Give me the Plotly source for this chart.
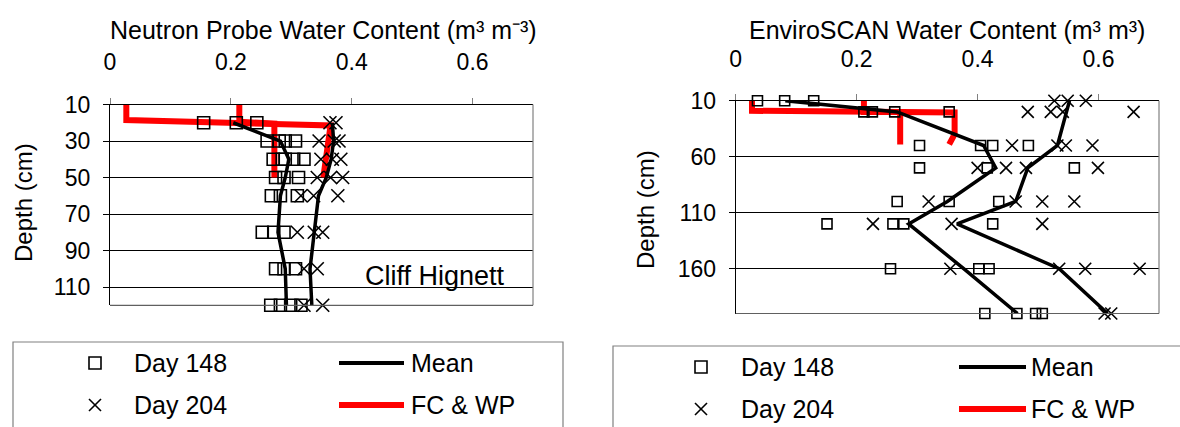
import plotly.graph_objects as go

W, H = 1180, 427
FONT = "Liberation Sans, Arial, sans-serif"

# ---------------- Neutron probe profile (left panel) ----------------
np_depth_148 = [20, 20, 20, 30, 30, 30, 30, 40, 40, 40, 40, 40, 50, 50, 50,
                60, 60, 60, 80, 80, 80, 100, 100, 100, 120, 120, 120, 120]
np_theta_148 = [0.155, 0.209, 0.243, 0.26, 0.28, 0.29, 0.307, 0.27, 0.285, 0.29, 0.304, 0.321,
                0.274, 0.288, 0.312, 0.267, 0.282, 0.31, 0.252, 0.271, 0.288,
                0.274, 0.288, 0.307, 0.266, 0.282, 0.299, 0.316]
np_depth_204 = [20, 20, 30, 30, 30, 40, 40, 40, 50, 50, 50, 60, 60, 60,
                80, 80, 80, 100, 100, 120, 120]
np_theta_204 = [0.364, 0.374, 0.346, 0.371, 0.379, 0.349, 0.368, 0.382, 0.343, 0.365, 0.385,
                0.316, 0.337, 0.377, 0.31, 0.338, 0.352, 0.321, 0.343, 0.321, 0.352]
np_mean_depth = [20, 30, 40, 50, 60, 80, 100, 120]
np_mean_148 = [0.204, 0.282, 0.296, 0.29, 0.282, 0.278, 0.29, 0.292]
np_mean_204 = [0.368, 0.37, 0.366, 0.358, 0.345, 0.338, 0.331, 0.334]
np_fc_depth = [10, 18.5, 21.5, 30, 40, 50]
np_fc = [0.027, 0.027, 0.365, 0.362, 0.358, 0.353]
np_wp_depth = [10, 19.5, 20.5, 50]
np_wp = [0.214, 0.214, 0.272, 0.272]
np_depth_ticks = [10, 30, 50, 70, 90, 110]

# ---------------- EnviroSCAN profile (right panel) ----------------
es_depth_148 = [10, 10, 10, 20, 20, 20, 20, 50, 50, 50, 50, 70, 70, 70, 100, 100, 100,
                120, 120, 120, 120, 160, 160, 160, 200, 200, 200, 200]
es_theta_148 = [0.036, 0.081, 0.129, 0.212, 0.226, 0.263, 0.353, 0.304, 0.405, 0.425, 0.484,
                0.304, 0.416, 0.56, 0.267, 0.353, 0.435, 0.151, 0.26, 0.278, 0.425,
                0.256, 0.402, 0.419, 0.412, 0.465, 0.496, 0.507]
es_depth_204 = [10, 10, 10, 20, 20, 20, 20, 50, 50, 50, 50, 70, 70, 70, 70,
                100, 100, 100, 100, 120, 120, 120, 160, 160, 160, 160, 200, 200]
es_theta_204 = [0.527, 0.549, 0.579, 0.483, 0.521, 0.541, 0.658, 0.457, 0.532, 0.546, 0.59,
                0.40, 0.447, 0.48, 0.599, 0.319, 0.463, 0.507, 0.56, 0.227, 0.357, 0.507,
                0.355, 0.535, 0.578, 0.668, 0.61, 0.621]
es_mean_depth = [10, 20, 50, 70, 100, 120, 160, 200]
es_mean_148 = [0.082, 0.267, 0.41, 0.43, 0.35, 0.286, 0.377, 0.466]
es_mean_204 = [0.552, 0.547, 0.532, 0.483, 0.463, 0.366, 0.535, 0.615]
es_fc_depth = [10, 19, 20.5, 40, 49]
es_fc = [0.027, 0.027, 0.362, 0.362, 0.353]
es_wp_depth = [10, 20, 20, 49]
es_wp = [0.212, 0.212, 0.272, 0.272]
es_depth_ticks = [10, 60, 110, 160]


def px(x):
    return x / W


def py(y):
    return 1 - y / H


fig = go.Figure()


def add_panel(xa, ya, d148, t148, d204, t204, mdep, m148, m204,
              fcd, fc, wpd, wp, sq_size, x_size):
    ax = dict(xaxis=xa, yaxis=ya)
    red = dict(color="#FF0000", width=6)
    fig.add_trace(go.Scatter(x=fc, y=fcd, mode="lines", line=red, **ax))
    fig.add_trace(go.Scatter(x=wp, y=wpd, mode="lines", line=red, **ax))
    fig.add_trace(go.Scatter(x=t148, y=d148, mode="markers", cliponaxis=False,
                             marker=dict(symbol="square-open", size=sq_size, color="black",
                                         line=dict(width=1.6, color="black")), **ax))
    fig.add_trace(go.Scatter(x=t204, y=d204, mode="markers", cliponaxis=False,
                             marker=dict(symbol="x-thin-open", size=x_size, color="black",
                                         line=dict(width=1.6, color="black")), **ax))
    blk = dict(color="black", width=3.5)
    fig.add_trace(go.Scatter(x=m148, y=mdep, mode="lines", line=blk, **ax))
    fig.add_trace(go.Scatter(x=m204, y=mdep, mode="lines", line=blk, **ax))


add_panel("x", "y", np_depth_148, np_theta_148, np_depth_204, np_theta_204,
          np_mean_depth, np_mean_148, np_mean_204, np_fc_depth, np_fc,
          np_wp_depth, np_wp, 12, 13)
add_panel("x2", "y2", es_depth_148, es_theta_148, es_depth_204, es_theta_204,
          es_mean_depth, es_mean_148, es_mean_204, es_fc_depth, es_fc,
          es_wp_depth, es_wp, 10, 12)

tick_font = dict(family=FONT, size=23, color="black")
xcommon = dict(range=[0, 0.7], dtick=0.2, tick0=0, side="top", showline=True,
               linecolor="black", linewidth=1, ticks="outside", ticklen=6,
               tickcolor="#808080", showgrid=False, zeroline=False,
               tickfont=tick_font, automargin=False, ticklabelstandoff=18)
ycommon = dict(showline=True, linecolor="black", linewidth=1, ticks="outside",
               ticklen=6, tickcolor="black", showgrid=True, gridcolor="black",
               gridwidth=1, zeroline=False, tickfont=tick_font, automargin=False,
               ticklabelstandoff=8)

fig.update_layout(
    width=W, height=H, margin=dict(l=0, r=0, t=0, b=0),
    paper_bgcolor="white", plot_bgcolor="white", showlegend=False,
    xaxis=dict(domain=[px(110), px(533)], anchor="y", **xcommon),
    yaxis=dict(domain=[py(305.3), py(104.5)], anchor="x", range=[120, 10],
               tickvals=np_depth_ticks, **ycommon),
    xaxis2=dict(domain=[px(735.7), px(1159)], anchor="y2", **xcommon),
    yaxis2=dict(domain=[py(313.5), py(100.7)], anchor="x2", range=[200, 10],
                tickvals=es_depth_ticks, **ycommon),
)

shapes = []
annotations = []

# gray right/bottom frame of each plot area
for xr, yr in (("x domain", "y domain"), ("x2 domain", "y2 domain")):
    shapes.append(dict(type="line", xref=xr, yref=yr, x0=1, x1=1, y0=0, y1=1,
                       line=dict(color="#808080", width=1.2)))
    shapes.append(dict(type="line", xref=xr, yref=yr, x0=0, x1=1, y0=0, y1=0,
                       line=dict(color="#606060", width=1.2)))


def text(x, y, s, size, xanchor="center", angle=0):
    annotations.append(dict(xref="paper", yref="paper", x=px(x), y=py(y), text=s,
                            showarrow=False, xanchor=xanchor, yanchor="middle",
                            textangle=angle,
                            font=dict(family=FONT, size=size, color="black")))


# axis titles
text(323, 30, "Neutron Probe Water Content (m³ m⁻³)", 25)
text(947, 30, "EnviroSCAN Water Content (m³ m³)", 25)
text(23, 203, "Depth (cm)", 24, angle=-90)
text(645, 210, "Depth (cm)", 24, angle=-90)
text(435, 276, "Cliff Hignett", 27)


# legends
def legend(box_l, box_r, top, mk_x, txt_x, ln_x0, ln_x1, lab_x, row1, row2):
    shapes.append(dict(type="rect", xref="paper", yref="paper", x0=px(box_l), x1=px(box_r),
                       y0=py(460), y1=py(top), line=dict(color="#808080", width=1.2)))
    s = 6
    shapes.append(dict(type="rect", xref="paper", yref="paper", x0=px(mk_x - s), x1=px(mk_x + s),
                       y0=py(row1 + s), y1=py(row1 - s), line=dict(color="black", width=1.6)))
    for a, b in ((-s, s), (s, -s)):
        shapes.append(dict(type="line", xref="paper", yref="paper", x0=px(mk_x - s), x1=px(mk_x + s),
                           y0=py(row2 + a), y1=py(row2 + b), line=dict(color="black", width=1.6)))
    shapes.append(dict(type="line", xref="paper", yref="paper", x0=px(ln_x0), x1=px(ln_x1),
                       y0=py(row1), y1=py(row1), line=dict(color="black", width=4)))
    shapes.append(dict(type="line", xref="paper", yref="paper", x0=px(ln_x0), x1=px(ln_x1),
                       y0=py(row2), y1=py(row2), line=dict(color="#FF0000", width=6)))
    text(txt_x, row1, "Day 148", 25, xanchor="left")
    text(txt_x, row2, "Day 204", 25, xanchor="left")
    text(lab_x, row1, "Mean", 25, xanchor="left")
    text(lab_x, row2, "FC &amp; WP", 25, xanchor="left")


legend(13, 563, 342, 95, 132, 339, 404, 409, 363, 405)
legend(613, 1200, 346, 701, 739, 959, 1026, 1029, 367, 409)

fig.update_layout(shapes=shapes, annotations=annotations)
fig.write_html("out.html")
